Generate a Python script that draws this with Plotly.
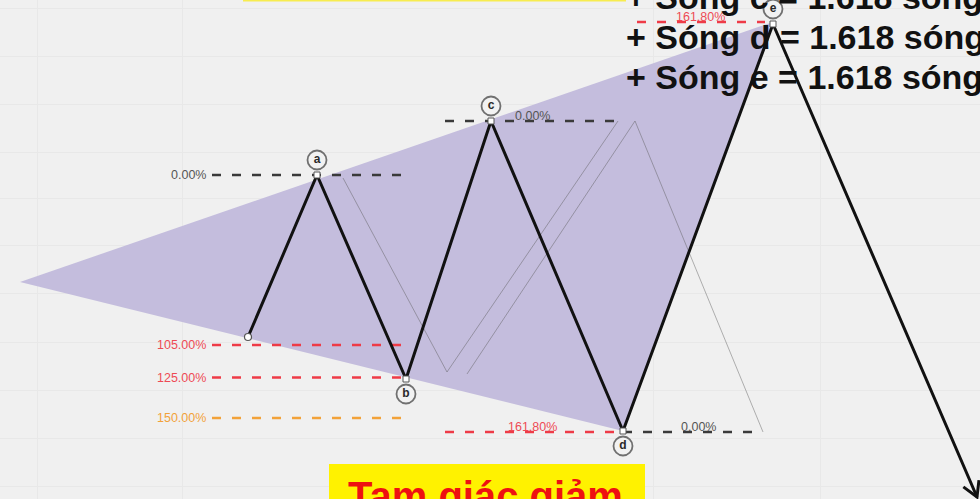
import math
import plotly.graph_objects as go

# ---------------- data (chart units: x = bar position, y = price level, axis reversed) -------------
wave_x = [248, 317, 406, 491, 623, 773, 977]
wave_y = [337, 175, 379, 121, 431, 24, 497]
wave_names = ["", "a", "b", "c", "d", "e", ""]

apex_x, apex_y = 20, 282          # left apex of the triangle

gray1_x = [343, 447, 618]
gray1_y = [178, 372, 121]
gray2_x = [467, 635, 763]
gray2_y = [374, 121, 432]

# extension levels of wave a (ratios of start->a)
left_ratios = [0.0, 1.05, 1.25, 1.50]
left_labels = ["0.00%", "105.00%", "125.00%", "150.00%"]
left_colors = ["#3a3a3a", "#ee3b47", "#ee3b47", "#f2a23a"]
left_text_colors = ["#555555", "#ee4a55", "#ee4a55", "#f2a23a"]
left_x0, left_x1 = 212, 402

right_levels_y = [121, 432, 432, 22]
right_levels_x0 = [445, 445, 623, 637]
right_levels_x1 = [620, 623, 763, 765]
right_label_x = [532, 532, 698, 700]
right_labels = ["0.00%", "161.80%", "0.00%", "161.80%"]
right_colors = ["#3a3a3a", "#ee3b47", "#3a3a3a", "#ee3b47"]
right_text_colors = ["#555555", "#ee4a55", "#555555", "#ee4a55"]

text_lines = ["+ Sóng c = 1.618 sóng b", "+ Sóng d = 1.618 sóng c", "+ Sóng e = 1.618 sóng d"]
text_line_y = [-3, 37, 77]
title_bottom = "Tam giác giảm"

BG = "#f0f0f0"
FONT = "Arial, Liberation Sans, sans-serif"
Y_TOP, Y_BOT = 0, 499

fig = go.Figure()

# triangle fill
fig.add_trace(go.Scatter(
    x=[apex_x, wave_x[5], wave_x[4], apex_x],
    y=[apex_y, wave_y[5] - 2, wave_y[4], apex_y],
    mode="lines", fill="toself", fillcolor="#c4bddd",
    line=dict(width=0, color="#c4bddd"), hoverinfo="skip", showlegend=False))

# thin gray helper lines
for gx, gy in [(gray1_x, gray1_y), (gray2_x, gray2_y)]:
    fig.add_trace(go.Scatter(x=gx, y=gy, mode="lines",
                             line=dict(color="rgba(90,90,90,0.45)", width=1),
                             hoverinfo="skip", showlegend=False))

# left fib levels
y_start, y_a = wave_y[0], wave_y[1]
for r, lab, col, tcol in zip(left_ratios, left_labels, left_colors, left_text_colors):
    yy = y_a + r * (y_start - y_a)
    fig.add_trace(go.Scatter(x=[left_x0, left_x1], y=[yy, yy], mode="lines",
                             line=dict(color=col, width=2.5, dash="9px,11px"),
                             hoverinfo="skip", showlegend=False))
    fig.add_annotation(x=left_x0 - 4, y=yy, text=lab, showarrow=False,
                       xanchor="right", yanchor="middle",
                       font=dict(family=FONT, size=12.5, color=tcol))

# right fib levels
for yy, x0, x1, lx_, lab, col, tcol in zip(right_levels_y, right_levels_x0, right_levels_x1,
                                           right_label_x, right_labels, right_colors,
                                           right_text_colors):
    fig.add_trace(go.Scatter(x=[x0, x1], y=[yy, yy], mode="lines",
                             line=dict(color=col, width=2.5, dash="9px,11px"),
                             hoverinfo="skip", showlegend=False))
    fig.add_annotation(x=lx_, y=yy - 5, text=lab, showarrow=False,
                       xanchor="center", yanchor="middle",
                       font=dict(family=FONT, size=12.5, color=tcol))

# main wave
fig.add_trace(go.Scatter(x=wave_x, y=wave_y, mode="lines",
                         line=dict(color="#111111", width=3),
                         hoverinfo="skip", showlegend=False))

# arrow head at the end of the last leg
dx = wave_x[-1] - wave_x[-2]
dy = wave_y[-1] - wave_y[-2]
n = math.hypot(dx, dy)
ux, uy = dx / n, dy / n
L, ang = 17, math.radians(30)
arms = []
for s in (1, -1):
    c, sn = math.cos(s * ang), math.sin(s * ang)
    rx = ux * c - uy * sn
    ry = ux * sn + uy * c
    arms.append((wave_x[-1] - L * rx, wave_y[-1] - L * ry))
fig.add_trace(go.Scatter(x=[arms[0][0], wave_x[-1], arms[1][0]],
                         y=[arms[0][1], wave_y[-1], arms[1][1]],
                         mode="lines", line=dict(color="#111111", width=3),
                         hoverinfo="skip", showlegend=False))

# pivot markers
fig.add_trace(go.Scatter(x=wave_x[1:6], y=wave_y[1:6], mode="markers",
                         marker=dict(symbol="square", size=6, color="white",
                                     line=dict(color="#555555", width=1)),
                         hoverinfo="skip", showlegend=False))
fig.add_trace(go.Scatter(x=[wave_x[0]], y=[wave_y[0]], mode="markers",
                         marker=dict(symbol="circle", size=7, color="white",
                                     line=dict(color="#555555", width=1.2)),
                         hoverinfo="skip", showlegend=False))

# circled wave labels
lx, ly, lt = [], [], []
for i in range(1, 6):
    high = wave_y[i] < wave_y[i - 1]
    lx.append(wave_x[i])
    ly.append(wave_y[i] + (-15 if high else 15))
    lt.append("<b>" + wave_names[i] + "</b>")
fig.add_trace(go.Scatter(x=lx, y=ly, mode="markers+text", text=lt,
                         textposition="middle center", cliponaxis=False,
                         textfont=dict(family=FONT, size=12, color="#2a2a2a"),
                         marker=dict(symbol="circle", size=19, color="rgba(242,242,242,0.85)",
                                     line=dict(color="#707070", width=1.8)),
                         hoverinfo="skip", showlegend=False))

# top yellow strip
fig.add_shape(type="rect", x0=243, x1=626, y0=-10, y1=1.5,
              fillcolor="#f7ec4f", line=dict(width=0), layer="above")

# right-hand formula lines (paper coordinates so partly-hidden line is still drawn)
for t, yy in zip(text_lines, text_line_y):
    fig.add_annotation(x=624, xref="x", y=(Y_BOT - yy) / (Y_BOT - Y_TOP), yref="paper",
                       text="<b>" + t + "</b>", showarrow=False,
                       xanchor="left", yanchor="middle",
                       font=dict(family=FONT, size=34, color="#111111"))

# bottom yellow box + title
fig.add_shape(type="rect", x0=329, x1=645, y0=464, y1=520,
              fillcolor="#fff200", line=dict(width=0), layer="above")
fig.add_annotation(x=485, xref="x", y=(Y_BOT - 496) / (Y_BOT - Y_TOP), yref="paper",
                   text="<b>" + title_bottom + "</b>", showarrow=False,
                   xanchor="center", yanchor="middle",
                   font=dict(family=FONT, size=40, color="#ee1111"))

grid_y = [8, 56, 104, 152, 198, 245, 293, 342, 390, 438, 486]
grid_x = [37, 182, 653, 820]

fig.update_layout(
    width=980, height=499, margin=dict(l=0, r=0, t=0, b=0),
    paper_bgcolor=BG, plot_bgcolor=BG,
    xaxis=dict(range=[0, 980], showticklabels=False, zeroline=False,
               showgrid=True, gridcolor="#e8e8e8", tickvals=grid_x, fixedrange=True),
    yaxis=dict(range=[Y_BOT, Y_TOP], showticklabels=False, zeroline=False,
               showgrid=True, gridcolor="#e8e8e8", tickvals=grid_y, fixedrange=True),
    showlegend=False,
)

fig.write_html("out.html", config={"displayModeBar": False},
               post_script="document.body.style.margin='0';document.body.style.overflow='hidden';")
